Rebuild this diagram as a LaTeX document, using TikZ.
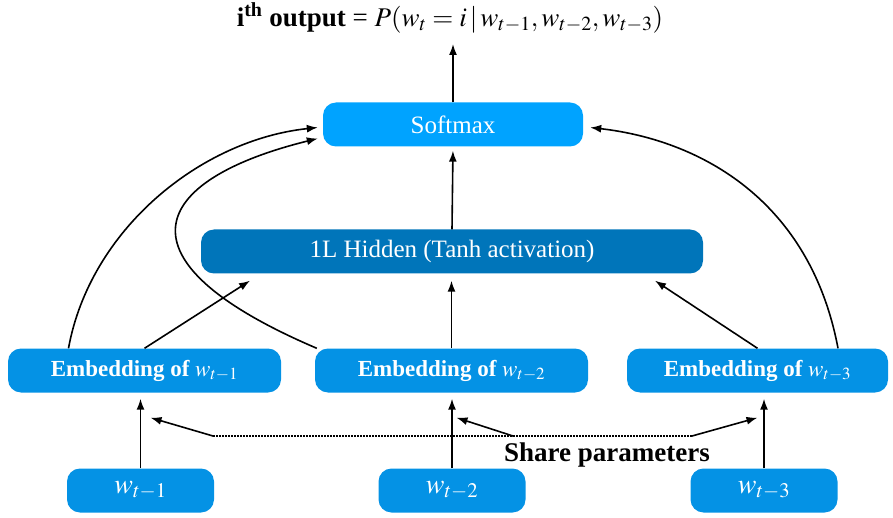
\documentclass[tikz,border=0pt]{standalone}
\usepackage{mathptmx}
\usepackage[no-math]{fontspec}
\setmainfont{Liberation Serif}
\usetikzlibrary{arrows.meta}
\definecolor{softblue}{RGB}{0,163,255}
\definecolor{hiddenblue}{RGB}{0,117,186}
\definecolor{embblue}{RGB}{4,146,229}
\tikzset{
  box/.style={rounded corners=13pt, text=white, inner sep=0pt, minimum height=44pt},
  arr/.style={-{Latex[length=11pt,width=8pt]}, line width=1.6pt},
}
\begin{document}
\begin{tikzpicture}[x=1pt,y=-1pt]
\useasboundingbox (0,0) rectangle (893,518);
% title and top boxes
\node (title) at (450,18) {\fontsize{27}{31}\selectfont\textbf{i\textsuperscript{th} output} = $P(w_t = i\,|\,w_{t-1}, w_{t-2}, w_{t-3})$};
\node[box, fill=softblue, minimum width=260pt, font=\fontsize{25}{30}\selectfont] (softmax) at (453,124.5) {Softmax};
\node[box, fill=hiddenblue, minimum width=502pt, font=\fontsize{25}{30}\selectfont] (hidden) at (452,251.5) {1L Hidden (Tanh activation)};
% embeddings
\node[box, fill=embblue, minimum width=273pt, font=\fontsize{23}{27}\selectfont\bfseries] (emb1) at (144.5,370.5) {Embedding of $w_{t-1}$};
\node[box, fill=embblue, minimum width=273pt, font=\fontsize{23}{27}\selectfont\bfseries] (emb2) at (451.5,370.5) {Embedding of $w_{t-2}$};
\node[box, fill=embblue, minimum width=261pt, font=\fontsize{23}{27}\selectfont\bfseries] (emb3) at (757.5,370.5) {Embedding of $w_{t-3}$};
% words
\node[box, fill=embblue, minimum width=147pt, font=\fontsize{28}{32}\selectfont] (word1) at (140.5,490.5) {$w_{t-1}$};
\node[box, fill=embblue, minimum width=147pt, font=\fontsize{28}{32}\selectfont] (word2) at (452,490.5) {$w_{t-2}$};
\node[box, fill=embblue, minimum width=147pt, font=\fontsize{28}{32}\selectfont] (word3) at (764,490.5) {$w_{t-3}$};
\node[font=\fontsize{27}{32}\selectfont\bfseries] (share) at (607,455) {Share parameters};
\coordinate (shrA) at (213,436);
\coordinate (shrB) at (513,436);
\coordinate (shrC) at (692,436);
% arrows
\draw[arr, shorten >=6pt] (word1.north) -- (word1.north |- emb1.south);
\draw[arr, shorten >=6pt] (word2.north) -- (word2.north |- emb2.south);
\draw[arr, shorten >=6pt] (word3.north) -- (word3.north |- emb3.south);
\draw[line width=1.5pt, dash pattern=on 1.5pt off 1.5pt] (shrA) -- (shrC);
\draw[arr] (shrA) -- ([xshift=6pt,yshift=-25pt]emb1.south);
\draw[arr] (shrB) -- ([xshift=5pt,yshift=-25pt]emb2.south);
\draw[arr] (shrC) -- ([xshift=0pt,yshift=-25pt]emb3.south);
\draw[arr] (emb1.north) -- ([xshift=-202pt,yshift=-7pt]hidden.south);
\draw[arr, shorten >=7pt] (emb2.north) -- (emb2.north |- hidden.south);
\draw[arr] (emb3.north) -- ([xshift=203pt,yshift=-7pt]hidden.south);
\draw[arr, shorten >=4pt] (hidden.north) -- (softmax.south);
\draw[arr] (softmax.north) -- (453,44);
\draw[arr] ([xshift=-76pt]emb1.north) .. controls (90,230) and (200,140) .. ([xshift=-5pt,yshift=-3pt]softmax.west);
\draw[arr] ([xshift=2pt]emb2.north west) .. controls (110,260) and (150,180) .. ([xshift=-5pt,yshift=-14pt]softmax.west);
\draw[arr] ([xshift=80.5pt]emb3.north) .. controls (810,200) and (700,140) .. ([xshift=7pt,yshift=-3pt]softmax.east);
\end{tikzpicture}
\end{document}
